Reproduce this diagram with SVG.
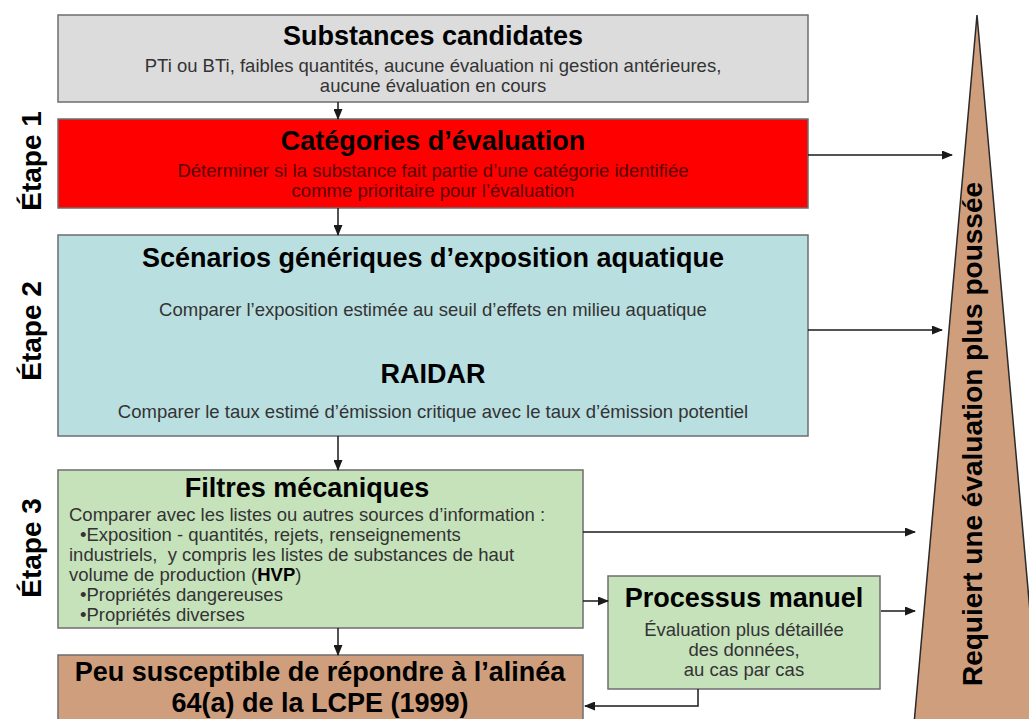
<svg xmlns="http://www.w3.org/2000/svg" width="1029" height="719" viewBox="0 0 1029 719">
<defs>
<marker id="ah" markerUnits="userSpaceOnUse" markerWidth="11" markerHeight="9" refX="10" refY="4.5" orient="auto">
<path d="M0,0 L11,4.5 L0,9 z" fill="#1a1a1a"/>
</marker>
<style>
.box{stroke:#6e6e6e;stroke-width:1.5}
.t{font-family:"Liberation Sans",Arial,sans-serif;font-weight:bold;font-size:27px;fill:#000;text-anchor:middle}
.s{font-family:"Liberation Sans",Arial,sans-serif;font-size:18.5px;fill:#333;text-anchor:middle}
.l{font-family:"Liberation Sans",Arial,sans-serif;font-size:18.5px;fill:#333;white-space:pre}
.e{font-family:"Liberation Sans",Arial,sans-serif;font-weight:bold;font-size:28px;fill:#000;text-anchor:middle}
.c{stroke:#1a1a1a;stroke-width:1.5;fill:none;marker-end:url(#ah)}
</style>
</defs>
<rect width="1029" height="719" fill="#ffffff"/>

<g id="triangle">
<polygon points="977,15 914,724 1040,724" fill="#cf9e7c" stroke="#2a2a2a" stroke-width="1.5"/>
<text class="e" font-size="27.5" transform="translate(982,434) rotate(-90)">Requiert une évaluation plus poussée</text>
</g>

<g id="etapes">
<text class="e" transform="translate(41,161) rotate(-90)">Étape 1</text>
<text class="e" transform="translate(41,331) rotate(-90)">Étape 2</text>
<text class="e" transform="translate(41,548) rotate(-90)">Étape 3</text>
</g>

<g id="substances">
<rect class="box" x="58" y="15" width="750" height="87" fill="#dcdcdc"/>
<text class="t" x="433" y="45">Substances candidates</text>
<text class="s" x="433" y="72">PTi ou BTi, faibles quantités, aucune évaluation ni gestion antérieures,</text>
<text class="s" x="433" y="92">aucune évaluation en cours</text>
</g>

<g id="categories">
<rect class="box" x="58" y="119" width="750" height="89" fill="#ff0000"/>
<text class="t" x="433" y="150">Catégories d’évaluation</text>
<text class="s" x="433" y="177" style="fill:#5a0000">Déterminer si la substance fait partie d’une catégorie identifiée</text>
<text class="s" x="433" y="197" style="fill:#5a0000">comme prioritaire pour l’évaluation</text>
</g>

<g id="scenarios">
<rect class="box" x="58" y="235" width="750" height="201" fill="#badfe1"/>
<text class="t" x="433" y="267">Scénarios génériques d’exposition aquatique</text>
<text class="s" x="433" y="316">Comparer l’exposition estimée au seuil d’effets en milieu aquatique</text>
<text class="t" x="433" y="383">RAIDAR</text>
<text class="s" x="433" y="418">Comparer le taux estimé d’émission critique avec le taux d’émission potentiel</text>
</g>

<g id="filtres">
<rect class="box" x="58" y="470" width="525" height="158" fill="#c6e2bb"/>
<text class="t" x="307" y="497">Filtres mécaniques</text>
<text class="l" x="69" y="521">Comparer avec les listes ou autres sources d’information :</text>
<text class="l" x="80" y="541">•Exposition - quantités, rejets, renseignements</text>
<text class="l" x="69" y="561" xml:space="preserve">industriels,  y compris les listes de substances de haut</text>
<text class="l" x="69" y="581">volume de production (<tspan font-weight="bold" fill="#000">HVP</tspan>)</text>
<text class="l" x="80" y="601">•Propriétés dangereuses</text>
<text class="l" x="80" y="621">•Propriétés diverses</text>
</g>

<g id="peu">
<rect class="box" x="58" y="655" width="525" height="70" fill="#cf9e7c"/>
<text class="t" x="320" y="681">Peu susceptible de répondre à l’alinéa</text>
<text class="t" x="320" y="712">64(a) de la LCPE (1999)</text>
</g>

<g id="processus">
<rect class="box" x="608" y="576" width="272" height="113" fill="#c6e2bb"/>
<text class="t" x="744" y="607">Processus manuel</text>
<text class="s" x="744" y="636">Évaluation plus détaillée</text>
<text class="s" x="744" y="656">des données,</text>
<text class="s" x="744" y="676">au cas par cas</text>
</g>

<g id="connectors">
<line class="c" x1="338" y1="102" x2="338" y2="119"/>
<line class="c" x1="338" y1="208" x2="338" y2="235"/>
<line class="c" x1="338" y1="436" x2="338" y2="470"/>
<line class="c" x1="338" y1="628" x2="338" y2="655"/>
<line class="c" x1="808" y1="155" x2="952" y2="155"/>
<line class="c" x1="808" y1="330" x2="942" y2="330"/>
<line class="c" x1="583" y1="532" x2="915" y2="532"/>
<line class="c" x1="583" y1="601" x2="608" y2="601"/>
<line class="c" x1="881" y1="611" x2="915" y2="611"/>
<polyline class="c" points="698,689 698,706 585,706"/>
</g>
</svg>
